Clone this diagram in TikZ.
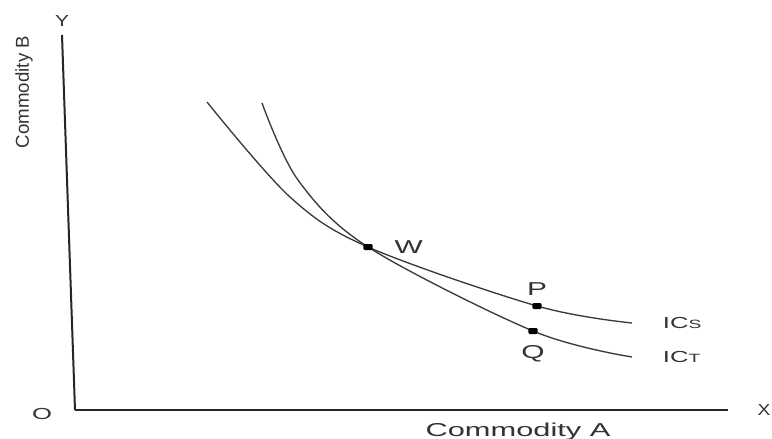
\documentclass[tikz,border=0pt]{standalone}
\usepackage{fontspec}
\setmainfont{Liberation Sans}
\usepackage{graphicx}
\usetikzlibrary{positioning}
\definecolor{CurveGray}{HTML}{3A3A3A}
\newcommand{\stretchx}[2][1.6]{\scalebox{#1}[1]{#2}}

\begin{document}
\begin{tikzpicture}[
  x=0.75pt, y=-0.75pt,
  axis/.style={draw=black!85},
  curve/.style={draw=CurveGray, line width=1pt},
  dot/.style={rectangle, rounded corners=1pt, fill=black, inner sep=0pt, minimum width=7pt, minimum height=4.5pt},
  lbl/.style={inner sep=0pt, font=\fontsize{14}{16}\selectfont, text=black!80},
  small/.style={inner sep=0pt, font=\fontsize{12}{14}\selectfont, text=black!80}
]
\useasboundingbox[fill=white] (0,0) rectangle (772,439);

% axes
\coordinate (origin) at (75,410);
\coordinate (ytop) at (62,35);
\coordinate (xend) at (728,410);
\draw[axis, line width=1.5pt] (ytop) -- (origin);
\draw[axis, line width=0.9pt] (origin) -- (xend);

% indifference curves
\coordinate (wpt) at (368,247);
\coordinate (ppt) at (537,306);
\coordinate (qpt) at (533,331);
\coordinate (sStart) at (207,102);
\coordinate (sEnd) at (632,323);
\coordinate (tStart) at (262,103);
\coordinate (tEnd) at (632,357);
\draw[curve] plot[smooth, tension=0.55] coordinates {(sStart) (290,197) (wpt) (ppt) (sEnd)};
\draw[curve] plot[smooth, tension=0.55] coordinates {(tStart) (298,180) (wpt) (qpt) (tEnd)};

\node[dot] (W) at (wpt) {};
\node[dot] (P) at (ppt) {};
\node[dot] (Q) at (qpt) {};

% labels
\node[lbl, right=16pt of W] (Wlbl) {\stretchx{W}};
\node[lbl, above=5pt of P] (Plbl) {\stretchx{P}};
\node[lbl, below=8pt of Q] (Qlbl) {\stretchx{Q}};
\node[small, right=23pt of sEnd] (ICs) {\stretchx{IC{\fontsize{9}{10}\selectfont S}}};
\node[small, right=23pt of tEnd] (ICt) {\stretchx{IC{\fontsize{9}{10}\selectfont T}}};

\node[small, above=6pt of ytop] (Ylbl) {\stretchx[1.3]{Y}};
\node[small, left=17pt of origin, yshift=-3pt] (Olbl) {\stretchx{O}};
\node[small, right=22pt of xend] (Xlbl) {\stretchx[1.2]{X}};
\node[lbl, anchor=base] (xtitle) at (518,436) {\stretchx[1.65]{Commodity A}};
\node[lbl, rotate=90] (ytitle) at (24,92) {Commodity B};
\end{tikzpicture}
\end{document}
